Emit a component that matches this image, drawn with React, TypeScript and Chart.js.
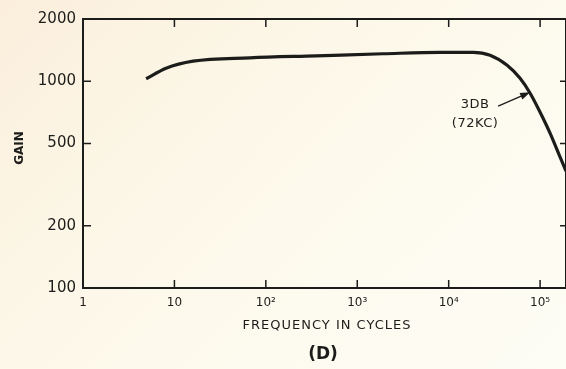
import React, { useEffect, useRef } from "react";
import { Chart, registerables } from "chart.js";

Chart.register(...registerables);

// ---- data ----
const frequencies = [4.9, 8.1, 16, 67, 354, 1915, 8050, 18500, 28400, 43600, 60400, 77800, 100000, 128500, 165500, 192000];
const gains = [1028, 1156, 1250, 1298, 1327, 1358, 1380, 1380, 1336, 1194, 1033, 875, 708, 561, 429, 368];

const xTickValues = [1, 10, 100, 1000, 10000, 100000];
const xTickLabels = ["1", "10", "10²", "10³", "10⁴", "10⁵"];
const yTickValues = [100, 200, 500, 1000, 2000];
const yTickLabels = ["100", "200", "500", "1000", "2000"];

const xTitle = "FREQUENCY IN CYCLES";
const yTitle = "GAIN";
const caption = "(D)";
const noteLines = ["3DB", "(72KC)"];
const noteFreq = 77800;
const noteGain = 885;

const INK = "#1c1c1a";

const framePlugin = {
  id: "frame",
  afterDraw(chart: any) {
    const { ctx, chartArea: a, scales } = chart;
    const x = scales.x;
    const y = scales.y;
    ctx.save();
    ctx.strokeStyle = INK;
    ctx.lineWidth = 2;
    ctx.strokeRect(a.left, a.top, a.right - a.left, a.bottom - a.top);
    ctx.lineWidth = 1.5;
    const tl = 8;
    ctx.beginPath();
    xTickValues.forEach((v) => {
      const px = x.getPixelForValue(v);
      if (px <= a.left + 1 || px >= a.right - 1) return;
      ctx.moveTo(px, a.bottom);
      ctx.lineTo(px, a.bottom - tl);
      ctx.moveTo(px, a.top);
      ctx.lineTo(px, a.top + tl);
    });
    yTickValues.forEach((v) => {
      const py = y.getPixelForValue(v);
      if (py <= a.top + 1 || py >= a.bottom - 1) return;
      ctx.moveTo(a.left, py);
      ctx.lineTo(a.left + tl, py);
      ctx.moveTo(a.right, py);
      ctx.lineTo(a.right - 6, py);
    });
    ctx.stroke();

    // titles
    ctx.fillStyle = INK;
    ctx.textAlign = "center";
    ctx.textBaseline = "middle";
    ctx.font = "13px 'DejaVu Sans'";
    (ctx as any).letterSpacing = "1px";
    ctx.fillText(xTitle, 327, 326);
    (ctx as any).letterSpacing = "0px";
    ctx.font = "bold 17px 'DejaVu Sans'";
    ctx.fillText(caption, 323, 355);

    ctx.save();
    ctx.translate(20, 148);
    ctx.rotate(-Math.PI / 2);
    ctx.font = "bold 12px 'DejaVu Sans'";
    ctx.fillText(yTitle, 0, 0);
    ctx.restore();

    // annotation with arrow
    const tipX = x.getPixelForValue(noteFreq);
    const tipY = y.getPixelForValue(noteGain);
    ctx.font = "13px 'DejaVu Sans'";
    (ctx as any).letterSpacing = "0.5px";
    ctx.fillText(noteLines[0], tipX - 55, tipY + 12);
    ctx.fillText(noteLines[1], tipX - 55, tipY + 31);
    (ctx as any).letterSpacing = "0px";
    const sx = tipX - 32;
    const sy = tipY + 14;
    const ang = Math.atan2(tipY - sy, tipX - sx);
    ctx.lineWidth = 1.3;
    ctx.beginPath();
    ctx.moveTo(sx, sy);
    ctx.lineTo(tipX - 6 * Math.cos(ang), tipY - 6 * Math.sin(ang));
    ctx.stroke();
    ctx.beginPath();
    ctx.moveTo(tipX, tipY);
    ctx.lineTo(tipX - 10 * Math.cos(ang) + 3.5 * Math.sin(ang), tipY - 10 * Math.sin(ang) - 3.5 * Math.cos(ang));
    ctx.lineTo(tipX - 10 * Math.cos(ang) - 3.5 * Math.sin(ang), tipY - 10 * Math.sin(ang) + 3.5 * Math.cos(ang));
    ctx.closePath();
    ctx.fill();
    ctx.restore();
  },
};

export default function App() {
  const ref = useRef<HTMLCanvasElement | null>(null);
  useEffect(() => {
    if (!ref.current) return;
    const chart = new Chart(ref.current, {
      type: "line",
      data: {
        datasets: [
          {
            data: frequencies.map((f, i) => ({ x: f, y: gains[i] })),
            borderColor: INK,
            borderWidth: 3.2,
            pointRadius: 0,
            cubicInterpolationMode: "monotone",
            fill: false,
          },
        ],
      },
      options: {
        animation: false,
        responsive: true,
        maintainAspectRatio: false,
        layout: { padding: { top: 19, right: 0, left: 0, bottom: 0 } },
        plugins: { legend: { display: false }, tooltip: { enabled: false } },
        scales: {
          x: {
            type: "logarithmic",
            min: 1,
            max: 192000,
            grid: { display: false, drawTicks: false },
            border: { display: false },
            afterBuildTicks: (s: any) => {
              s.ticks = xTickValues.map((v) => ({ value: v }));
            },
            afterFit: (s: any) => {
              s.height = 81;
            },
            ticks: {
              autoSkip: false,
              maxRotation: 0,
              padding: 8,
              color: INK,
              font: { family: "'DejaVu Sans'", size: 12 },
              callback: (v: any) => {
                const i = xTickValues.indexOf(Number(v));
                return i >= 0 ? xTickLabels[i] : "";
              },
            },
          },
          y: {
            type: "logarithmic",
            min: 100,
            max: 2000,
            grid: { display: false, drawTicks: false },
            border: { display: false },
            afterBuildTicks: (s: any) => {
              s.ticks = yTickValues.map((v) => ({ value: v }));
            },
            afterFit: (s: any) => {
              s.width = 83;
            },
            ticks: {
              autoSkip: false,
              padding: 7,
              color: INK,
              font: { family: "'DejaVu Sans'", size: 15 },
              callback: (v: any) => {
                const i = yTickValues.indexOf(Number(v));
                return i >= 0 ? yTickLabels[i] : "";
              },
            },
          },
        },
      } as any,
      plugins: [framePlugin],
    });
    return () => chart.destroy();
  }, []);

  return (
    <div
      style={{
        position: "absolute",
        left: 0,
        top: 0,
        width: 566,
        height: 369,
        background: "linear-gradient(135deg, #fbeedc 0%, #fcf6e6 30%, #fdfbf0 70%, #fefdf5 100%)",
        overflow: "hidden",
      }}
    >
      <canvas ref={ref} />
    </div>
  );
}
